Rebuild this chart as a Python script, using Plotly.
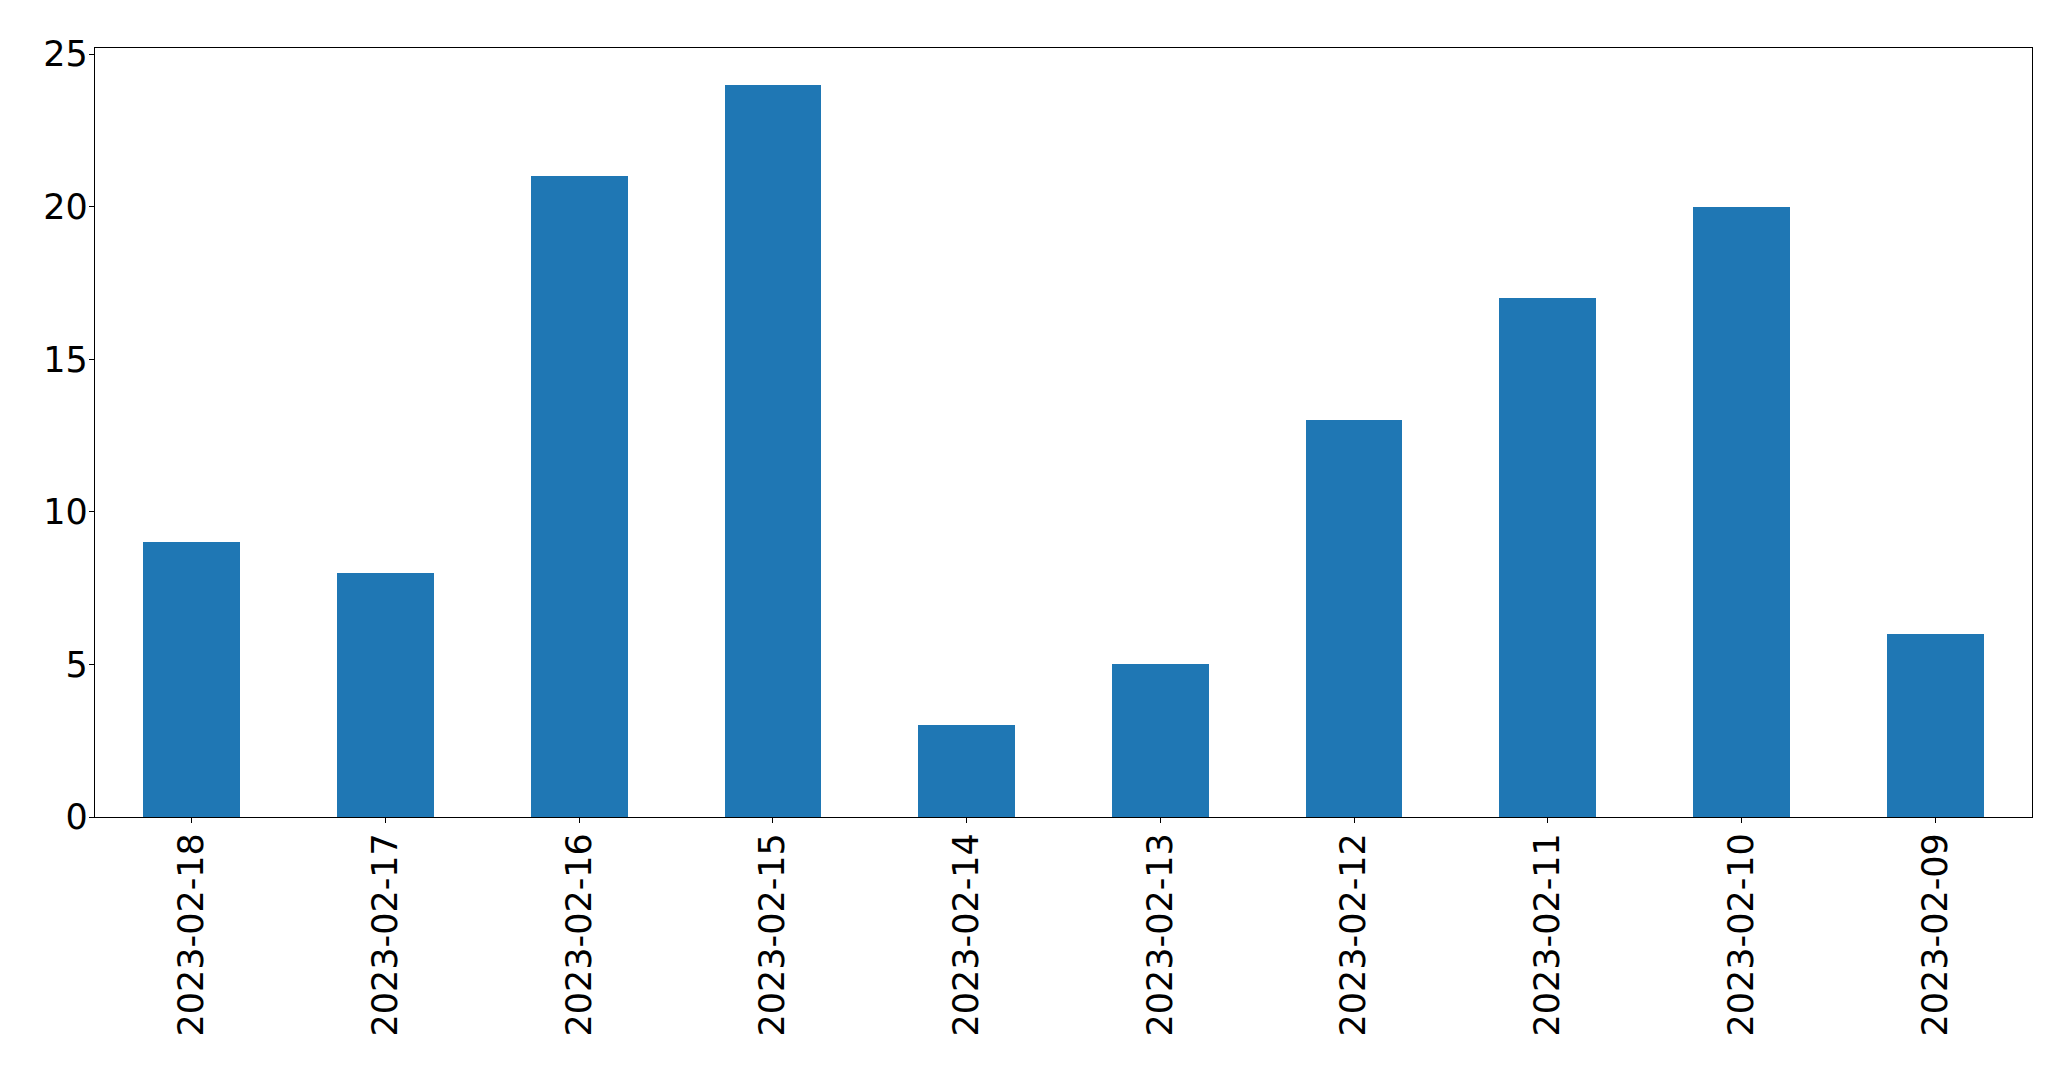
import plotly.graph_objects as go

categories = ["2023-02-18", "2023-02-17", "2023-02-16", "2023-02-15", "2023-02-14",
              "2023-02-13", "2023-02-12", "2023-02-11", "2023-02-10", "2023-02-09"]
values = [9, 8, 21, 24, 3, 5, 13, 17, 20, 6]
y_ticks = [0, 5, 10, 15, 20, 25]

fig = go.Figure()
fig.add_trace(go.Bar(x=list(range(len(categories))), y=values,
                     marker=dict(color="#1f77b4", line=dict(width=0)), width=0.5))

fig.update_layout(
    width=2063, height=1061,
    margin=dict(l=87, r=39, t=40, b=252, pad=0),
    paper_bgcolor="white", plot_bgcolor="white",
    font=dict(family="DejaVu Sans", size=35, color="black"),
    showlegend=False, bargap=0,
)
fig.update_xaxes(
    range=[-0.5, len(categories) - 0.5],
    tickmode="array", tickvals=list(range(len(categories))), ticktext=categories,
    tickangle=-90, ticks="outside", ticklen=5, tickwidth=1.3, tickcolor="black",
    showline=True, linecolor="black", linewidth=1.3, mirror=True,
    showgrid=False, zeroline=False, ticklabelstandoff=-4,
)
fig.update_yaxes(
    range=[0, 25.2], tickmode="array", tickvals=y_ticks,
    ticks="outside", ticklen=5, tickwidth=1.3, tickcolor="black",
    showline=True, linecolor="black", linewidth=1.3, mirror=True,
    showgrid=False, zeroline=False, ticklabelstandoff=-6,
)

fig.write_html("out.html")
